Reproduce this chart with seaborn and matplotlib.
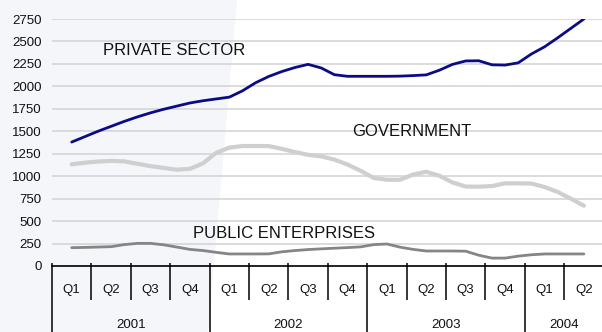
import numpy as np
import pandas as pd
import matplotlib
matplotlib.use("Agg")
import matplotlib.pyplot as plt
from matplotlib.patches import Polygon
import seaborn as sns

# Monthly employment series, February 2001 to May 2004 (thousands)
private_sector = [1380, 1440, 1500, 1555, 1610, 1660, 1705, 1745, 1780, 1815,
                  1840, 1860, 1880, 1950, 2040, 2110, 2165, 2210, 2245, 2205,
                  2130, 2112, 2112, 2112, 2112, 2114, 2120, 2128, 2180, 2245,
                  2283, 2285, 2240, 2237, 2262, 2360, 2440, 2540, 2645, 2750]
government = [1132, 1150, 1163, 1170, 1165, 1138, 1112, 1092, 1072, 1082,
              1143, 1260, 1318, 1336, 1336, 1335, 1305, 1268, 1238, 1220,
              1185, 1130, 1060, 980, 960, 960, 1018, 1049, 1005, 930,
              885, 883, 890, 920, 920, 918, 880, 825, 750, 671]
public_enterprises = [204, 207, 211, 215, 238, 252, 252, 236, 211, 185,
                      172, 152, 134, 134, 134, 135, 158, 172, 183, 191,
                      198, 205, 213, 238, 245, 210, 185, 167, 167, 167,
                      165, 120, 88, 88, 110, 125, 134, 134, 134, 134]

series_names = ["PRIVATE SECTOR", "GOVERNMENT", "PUBLIC ENTERPRISES"]
quarter_labels = ["Q1", "Q2", "Q3", "Q4", "Q1", "Q2", "Q3", "Q4",
                  "Q1", "Q2", "Q3", "Q4", "Q1", "Q2"]
year_labels = ["2001", "2002", "2003", "2004"]
quarters_per_year = [4, 4, 4, 2]
y_ticks = list(range(0, 2751, 250))

sns.set_style("white")
plt.rcParams["font.family"] = ["Liberation Sans", "DejaVu Sans"]

months = np.arange(len(private_sector)) / 3.0  # position in quarter units
df = pd.concat([
    pd.DataFrame({"q": months, "value": vals, "series": name})
    for name, vals in zip(series_names, [private_sector, government, public_enterprises])
])

fig = plt.figure(figsize=(6.02, 3.32), dpi=100)
fig.patch.set_facecolor("white")

# soft tinted panel on the left side of the figure
fig.patches.append(Polygon([(0, 1), (237 / 602, 1), (208 / 602, 0), (0, 0)],
                           closed=True, transform=fig.transFigure,
                           facecolor="#f4f6fa", edgecolor="none", zorder=-10))

ax = fig.add_axes([52 / 602, 66 / 332, 550 / 602, 247 / 332])
ax.set_facecolor("none")
ax.set_zorder(1)

palette = {"PRIVATE SECTOR": "#0b0b86", "GOVERNMENT": "#cfcfcf",
           "PUBLIC ENTERPRISES": "#858585"}
sizes = {"PRIVATE SECTOR": 2.0, "GOVERNMENT": 3.0, "PUBLIC ENTERPRISES": 2.0}
sns.lineplot(data=df, x="q", y="value", hue="series", size="series",
             palette=palette, sizes=sizes, legend=False, ax=ax,
             estimator=None, zorder=3)

ax.set_xlim(-0.5, 13.46)
ax.set_ylim(0, 2750)
ax.set_xlabel("")
ax.set_ylabel("")

for side in ["left", "top", "right"]:
    ax.spines[side].set_visible(False)
ax.spines["bottom"].set_color("black")
ax.spines["bottom"].set_linewidth(1.2)
ax.spines["bottom"].set_zorder(4)

ax.set_yticks(y_ticks)
ax.set_yticklabels([str(v) for v in y_ticks], fontsize=9.5, color="#111111")
ax.tick_params(axis="y", length=0, pad=7.5)
ax.yaxis.grid(True, color="#d2d2d2", linewidth=1.1)
ax.set_axisbelow(True)

ax.set_xticks(range(len(quarter_labels)))
ax.set_xticklabels(quarter_labels, fontsize=9.5, color="#111111")
ax.tick_params(axis="x", direction="inout", length=6, width=1.0,
               color="black", pad=10)

# quarter and year separators below the axis
xt = ax.get_xaxis_transform()
year_bounds = np.cumsum([0] + quarters_per_year) - 0.5
quarter_bounds = [b for b in np.arange(-0.5, 13.6, 1.0) if b not in year_bounds]
ax.vlines(quarter_bounds, -0.138, 0.012, transform=xt, colors="black",
          linewidth=1.1, clip_on=False)
ax.vlines(year_bounds, -0.27, 0.012, transform=xt, colors="black",
          linewidth=1.1, clip_on=False)

for i, label in enumerate(year_labels):
    center = (year_bounds[i] + year_bounds[i + 1]) / 2
    ax.text(center, -0.24, label, transform=xt, ha="center", va="center",
            fontsize=9.5, color="#111111")

# series labels
ax.text(0.80, 2348, "PRIVATE SECTOR", fontsize=12, va="baseline", color="#111111")
ax.text(7.12, 1443, "GOVERNMENT", fontsize=12, va="baseline", color="#111111")
ax.text(3.08, 308, "PUBLIC ENTERPRISES", fontsize=12, va="baseline", color="#111111")

fig.savefig("out.png", dpi=100)
